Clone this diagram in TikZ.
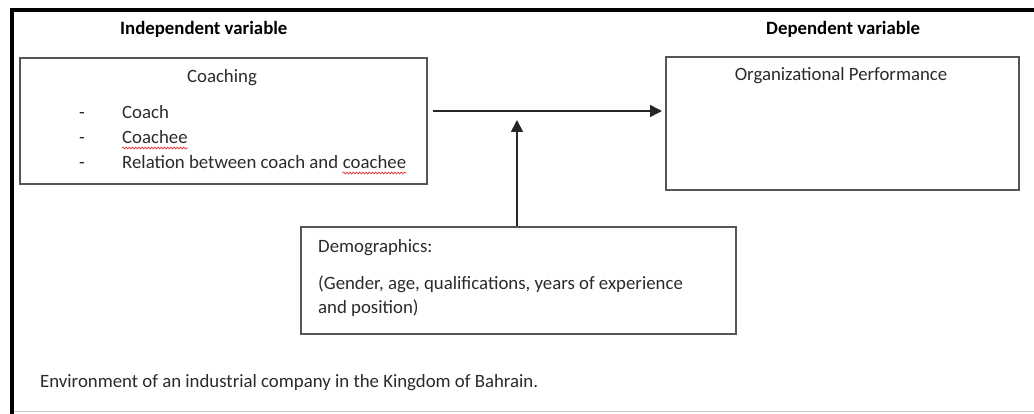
\documentclass[tikz,border=0pt]{standalone}
\usepackage{fontspec}
\setmainfont{Carlito}
\usetikzlibrary{arrows.meta,decorations.pathmorphing}
\definecolor{txt}{HTML}{2A2A2A}
\definecolor{boxline}{HTML}{555555}
\definecolor{wavy}{HTML}{E03030}
\begin{document}
\begin{tikzpicture}[x=1pt,y=-1pt,
  box/.style={draw=boxline, line width=1.8pt, anchor=north west, inner sep=0pt},
  lbl/.style={inner sep=0pt, text=txt, font=\fontsize{18.8}{24}\selectfont},
  head/.style={inner sep=0pt, text=black, font=\fontsize{18.8}{24}\selectfont\bfseries},
  arr/.style={draw=black!85, line width=1.6pt, -{Triangle[length=12pt,width=12pt]}},
  frameline/.style={draw=black, line width=3.5pt, line join=miter},
  spell/.style={draw=wavy, line width=0.7pt, decorate, decoration={snake, amplitude=0.9pt, segment length=3.2pt}}
]
\useasboundingbox (0,0) rectangle (1034,414);
% frame
\draw[frameline] (12,414) -- (12,10) -- (1034,10);
\draw[black!20, line width=0.8pt] (14,411) -- (1034,411);

% headings
\node[head, anchor=base west] (hind) at (120,35) {Independent variable};
\node[head, anchor=base west] (hdep) at (766,35) {Dependent variable};

% boxes
\node[box, minimum width=407pt, minimum height=126pt] (coach) at (19,57) {};
\node[box, minimum width=353pt, minimum height=133pt] (org) at (665,56) {};
\node[box, minimum width=435pt, minimum height=107pt] (demog) at (300,226) {};

% coaching content
\node[lbl, anchor=base] (tcoach) at (222,83) {Coaching};
\node[lbl, anchor=base] (b1) at (82,119) {-};
\node[lbl, anchor=base] (b2) at (82,144) {-};
\node[lbl, anchor=base] (b3) at (82,169) {-};
\node[lbl, anchor=base west] (i1) at (122,119) {Coach};
\node[lbl, anchor=base west] (i2) at (122,144) {Coachee};
\node[lbl, anchor=base west] (i3) at (122,169) {Relation between coach and};
\node[lbl, anchor=base west] (i3b) at ([xshift=4.3pt]i3.base east) {coachee};
\draw[spell] ([yshift=-4pt]i2.base west) -- ([yshift=-4pt]i2.base east);
\draw[spell] ([yshift=-4pt]i3b.base west) -- ([yshift=-4pt]i3b.base east);

% org content
\node[lbl, anchor=base] (torg) at (841,81) {Organizational Performance};

% demographics content
\node[lbl, anchor=base west] (d1) at (318,253) {Demographics:};
\node[lbl, anchor=base west] (d2) at (318,290) {(Gender, age, qualifications, years of experience};
\node[lbl, anchor=base west] (d3) at (318,313) {and position)};

% environment
\node[lbl, anchor=base west] (env) at (40,387) {Environment of an industrial company in the Kingdom of Bahrain.};

% arrows
\coordinate (hs) at (433,111);
\draw[arr, shorten >=3pt] (hs) -- (hs -| org.west);
\coordinate (vt) at (517,120);
\draw[arr] (vt |- demog.north) -- (vt);
\end{tikzpicture}
\end{document}
